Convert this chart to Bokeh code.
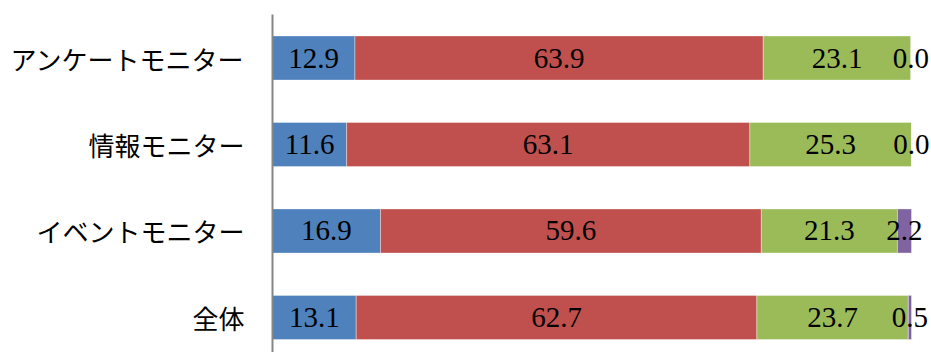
from bokeh.plotting import figure
from bokeh.models import ColumnDataSource, Range1d, FixedTicker
from bokeh.core.properties import value
from bokeh.embed import file_html
from bokeh.resources import INLINE

categories = ["アンケートモニター", "情報モニター", "イベントモニター", "全体"]
s1 = [12.9, 11.6, 16.9, 13.1]
s2 = [63.9, 63.1, 59.6, 62.7]
s3 = [23.1, 25.3, 21.3, 23.7]
s4 = [0.0, 0.0, 2.2, 0.5]
series = ["s1", "s2", "s3", "s4"]
colors = ["#4F81BD", "#C0504D", "#9BBB59", "#8064A2"]

ypos = [3, 2, 1, 0]
src = ColumnDataSource(dict(y=ypos, s1=s1, s2=s2, s3=s3, s4=s4))

p = figure(width=931, height=352, output_backend="svg", toolbar_location=None,
           x_range=Range1d(0, 103.13), y_range=Range1d(-0.405, 3.503),
           min_border_left=272, min_border_right=0, min_border_top=14,
           min_border_bottom=0)
p.hbar_stack(series, y="y", height=0.51, color=colors, source=src,
             line_color="white", line_width=0.6, line_alpha=0.6)

# labels
lx, ly, lt = [], [], []
vals = [s1, s2, s3, s4]
for i, y in enumerate(ypos):
    left = 0.0
    for v in vals:
        lx.append(left + v[i] / 2.0)
        ly.append(y)
        lt.append(f"{v[i]:.1f}")
        left += v[i]
p.text(x=lx, y=ly, text=lt, text_align="center", text_baseline="middle",
       text_font=value("Liberation Serif"), text_font_size="29px", text_color="black")

p.xaxis.visible = False
p.xgrid.visible = False
p.ygrid.visible = False
p.outline_line_color = None
p.yaxis.ticker = FixedTicker(ticks=ypos)
p.yaxis.major_label_overrides = {y: c for y, c in zip(ypos, categories)}
p.yaxis.major_tick_line_color = None
p.yaxis.minor_tick_line_color = None
p.yaxis.axis_line_color = "#868686"
p.yaxis.axis_line_width = 2
p.yaxis.major_label_text_font = "Noto Sans CJK JP"
p.yaxis.major_label_text_font_size = "26px"
p.yaxis.major_label_text_color = "black"
p.yaxis.major_label_standoff = 22

open("out.html", "w").write(file_html(p, INLINE))
